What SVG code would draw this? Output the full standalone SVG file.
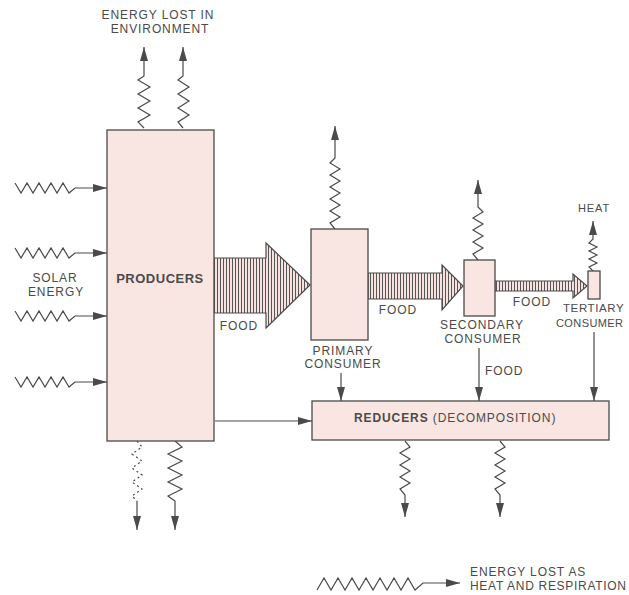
<svg xmlns="http://www.w3.org/2000/svg" width="629" height="595" viewBox="0 0 629 595">
<style>
text{font-family:"Liberation Sans",Arial,sans-serif;font-size:12px;fill:#4a4a4a;letter-spacing:0.9px}
.b{font-weight:bold}
.box{fill:#f9e6e3;stroke:#4a4a4a;stroke-width:1.3}
.w{fill:none;stroke:#4a4a4a;stroke-width:1.2;stroke-linejoin:miter}
.a{marker-end:url(#ah)}
.hatch{fill:url(#hp);stroke:#4a4a4a;stroke-width:1.2}
</style>
<defs>
<marker id="ah" viewBox="0 0 14 8" markerWidth="14" markerHeight="8" refX="14" refY="4" orient="auto" markerUnits="userSpaceOnUse">
<path d="M0,0 L14,4 L0,8 z" fill="#4a4a4a"/>
</marker>
<pattern id="hp" width="3" height="10" patternUnits="userSpaceOnUse">
<rect width="3" height="10" fill="#f6e2de"/>
<line x1="1.5" y1="0" x2="1.5" y2="10" stroke="#555" stroke-width="1"/>
</pattern>
</defs>
<rect width="629" height="595" fill="#ffffff"/>

<g id="connectors">
<!-- top losses from producers -->
<path class="w a" d="M144,128 L138,122 L150,115 L138,108 L150,101 L138,94 L150,87 L138,80 L144,76 L144,47"/>
<path class="w a" d="M183,128 L178,122 L189,115 L178,108 L189,101 L178,94 L189,87 L178,80 L183,76 L183,47"/>
<!-- solar energy inputs -->
<path class="w a" d="M15,183 L21,193 L27,183 L33,193 L39,183 L45,193 L51,183 L57,193 L63,183 L69,193 L75,188 L107,188"/>
<path class="w a" d="M15,248 L21,258 L27,248 L33,258 L39,248 L45,258 L51,248 L57,258 L63,248 L69,258 L75,253 L107,253"/>
<path class="w a" d="M15,311 L21,321 L27,311 L33,321 L39,311 L45,321 L51,311 L57,321 L63,311 L69,321 L75,316 L107,316"/>
<path class="w a" d="M15,377 L21,387 L27,377 L33,387 L39,377 L45,387 L51,377 L57,387 L63,377 L69,387 L75,382 L107,382"/>
<!-- primary consumer loss -->
<path class="w a" d="M335,229 L330,223 L340,217 L330,211 L340,205 L330,199 L340,193 L330,187 L340,181 L330,175 L340,169 L330,163 L335,158 L335,126"/>
<!-- secondary consumer loss -->
<path class="w a" d="M478,260 L473,254 L483,248 L473,242 L483,236 L473,230 L483,224 L473,218 L483,212 L478,207 L478,180"/>
<!-- heat from tertiary -->
<path class="w a" d="M593,271 L589,267 L597,263 L589,259 L597,255 L589,251 L597,247 L589,243 L593,239 L593,221"/>
<!-- food arrows (hatched) -->
<polygon class="hatch" points="213,258 266,258 266,243 310,285 266,328 266,313 213,313"/>
<polygon class="hatch" points="368,273 442,273 442,265 463,286 442,310 442,299 368,299"/>
<polygon class="hatch" points="495,281 573,281 573,274 587,286 573,298 573,291 495,291"/>
<!-- down arrows to reducers -->
<path class="w a" d="M341,373 L341,401"/>
<path class="w a" d="M479,348 L479,401"/>
<path class="w a" d="M594,332 L594,401"/>
<path class="w a" d="M215,421 L312,421"/>
<!-- bottom losses from producers -->
<path class="w" stroke-dasharray="2,3" d="M137,441 L142,447 L132,454 L142,461 L132,468 L142,475 L132,482 L142,489 L132,496 L137,501"/>
<path class="w a" d="M137,501 L137,530"/>
<path class="w a" d="M175,441 L182,447 L168,454 L182,461 L168,468 L182,475 L168,482 L182,489 L168,496 L175,501 L175,530"/>
<!-- reducer losses -->
<path class="w a" d="M405,441 L410,447 L400,453 L410,459 L400,465 L410,471 L400,477 L410,483 L400,489 L405,495 L405,517"/>
<path class="w a" d="M500,441 L505,447 L495,453 L505,459 L495,465 L505,471 L495,477 L505,483 L495,489 L500,495 L500,517"/>
<!-- legend -->
<path class="w a" d="M317,590 L324,578 L331,590 L338,578 L345,590 L352,578 L359,590 L366,578 L373,590 L380,578 L387,590 L394,578 L401,590 L408,578 L415,590 L423,583 L460,583"/>
</g>

<g id="producers">
<rect class="box" x="107" y="130" width="107" height="311"/>
<text class="b" x="160" y="283" text-anchor="middle" style="font-size:13px;letter-spacing:0.5px">PRODUCERS</text>
</g>
<g id="primary-consumer">
<rect class="box" x="311" y="229" width="57" height="111"/>
<text x="343" y="355" text-anchor="middle">PRIMARY</text>
<text x="343" y="368" text-anchor="middle">CONSUMER</text>
</g>
<g id="secondary-consumer">
<rect class="box" x="464" y="260" width="31" height="56"/>
<text x="482" y="329" text-anchor="middle">SECONDARY</text>
<text x="483" y="343" text-anchor="middle">CONSUMER</text>
</g>
<g id="tertiary-consumer">
<rect class="box" x="588" y="271" width="12" height="28"/>
<text x="563" y="312" style="font-size:11.5px;letter-spacing:0.6px">TERTIARY</text>
<text x="556" y="327" style="font-size:11px;letter-spacing:0.4px">CONSUMER</text>
</g>
<g id="reducers">
<rect class="box" x="312" y="401" width="297" height="39"/>
<text x="354" y="422"><tspan class="b">REDUCERS</tspan> (DECOMPOSITION)</text>
</g>

<g id="labels">
<text x="158" y="19" text-anchor="middle">ENERGY  LOST IN</text>
<text x="160" y="33" text-anchor="middle">ENVIRONMENT</text>
<text x="55" y="282" text-anchor="middle">SOLAR</text>
<text x="56" y="296" text-anchor="middle">ENERGY</text>
<text x="239" y="330" text-anchor="middle">FOOD</text>
<text x="398" y="314" text-anchor="middle">FOOD</text>
<text x="532" y="306" text-anchor="middle">FOOD</text>
<text x="485" y="375">FOOD</text>
<text x="594" y="212" text-anchor="middle" style="font-size:11px">HEAT</text>
<text x="470" y="576">ENERGY LOST AS</text>
<text x="470" y="590" style="letter-spacing:0.7px">HEAT AND RESPIRATION</text>
</g>
</svg>
